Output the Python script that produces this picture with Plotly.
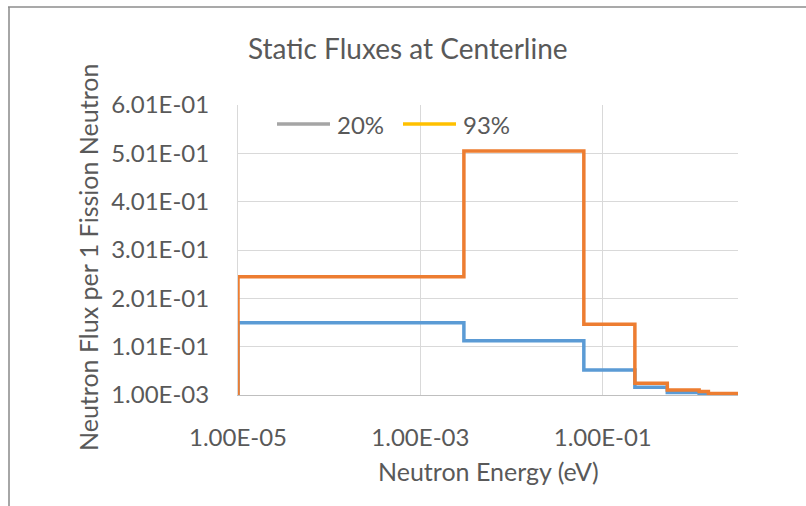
import plotly.graph_objects as go

# ---- data ----
energy_edges = [1e-5, 3.0e-3, 0.062, 0.225, 0.51, 1.14, 1.44, 3.04]   # eV
flux_20 = [0.1506, 0.1134, 0.0527, 0.0170, 0.0060, 0.0030, 0.0020]
flux_93 = [0.2458, 0.5059, 0.1473, 0.0252, 0.0113, 0.0085, 0.0040]
series_names = ["20%", "93%"]
line_colors = ["#5B9BD5", "#ED7D31"]
legend_colors = ["#A5A5A5", "#FFC000"]
y_ticks = [0.001, 0.101, 0.201, 0.301, 0.401, 0.501, 0.601]
x_ticks = [1e-5, 1e-3, 1e-1]
y_floor = 0.001

FONT = "Lato"
TXT = "#595959"

# plot-area geometry in pixels
L, R, T, B = 238, 68, 105, 111
W, H = 806, 506
PW, PH = W - L - R, H - T - B


def px(x):
    return (x - L) / PW


def py(y):
    return (H - B - y) / PH


def step_xy(edges, vals):
    xs = [edges[0]] + list(edges[:-1]) + [edges[-1]]
    ys = [y_floor] + list(vals) + [vals[-1]]
    return xs, ys


fig = go.Figure()
for name, vals, col in zip(series_names, [flux_20, flux_93], line_colors):
    xs, ys = step_xy(energy_edges, vals)
    fig.add_trace(go.Scatter(x=xs, y=ys, mode="lines", name=name,
                             line=dict(color=col, width=3.5, shape="hv"),
                             showlegend=False, hoverinfo="skip"))

# legend drawn as in the reference (grey / gold keys)
legend_shapes = []
legend_annots = []
for i, (name, col) in enumerate(zip(series_names, legend_colors)):
    x0 = 277 + i * 126
    legend_shapes.append(dict(type="line", xref="paper", yref="paper",
                              x0=px(x0), x1=px(x0 + 53), y0=py(124), y1=py(124),
                              line=dict(color=col, width=3.5)))
    legend_annots.append(dict(text=name, x=px(x0 + 58), y=py(124), xref="paper", yref="paper",
                              showarrow=False, xanchor="left", yanchor="middle",
                              font=dict(size=24, color=TXT)))

fig.update_layout(
    width=W, height=H,
    margin=dict(l=L, r=R, t=T, b=B, pad=0),
    paper_bgcolor="white", plot_bgcolor="white",
    font=dict(family=FONT, color=TXT, size=24),
    showlegend=False,
    xaxis=dict(type="log", range=[-5, 0.483], tickvals=x_ticks,
               ticktext=["{:.2E}".format(v) for v in x_ticks],
               showgrid=True, gridcolor="#D9D9D9", gridwidth=1,
               showline=True, linecolor="#BFBFBF", linewidth=1, zeroline=False,
               ticks="outside", ticklen=21, tickcolor="rgba(0,0,0,0)",
               tickfont=dict(size=24, color=TXT)),
    yaxis=dict(range=[0.001, 0.601], tickvals=y_ticks,
               ticktext=["{:.2E}".format(v) for v in y_ticks],
               showgrid=True, gridcolor="#D9D9D9", gridwidth=1,
               showline=True, linecolor="#D9D9D9", linewidth=1, zeroline=False,
               ticks="outside", ticklen=23, tickcolor="rgba(0,0,0,0)",
               tickfont=dict(size=24, color=TXT)),
    annotations=[
        dict(text="Static Fluxes at Centerline", x=px(408), y=py(48), xref="paper", yref="paper",
             showarrow=False, xanchor="center", yanchor="middle", font=dict(size=28, color=TXT)),
        dict(text="Neutron Flux per 1 Fission Neutron", x=px(88), y=py(258), xref="paper", yref="paper",
             showarrow=False, xanchor="center", yanchor="middle", textangle=-90,
             font=dict(size=25, color=TXT)),
        dict(text="Neutron Energy (eV)", x=px(488), y=py(471), xref="paper", yref="paper",
             showarrow=False, xanchor="center", yanchor="middle", font=dict(size=25, color=TXT)),
    ] + legend_annots,
    shapes=[
        dict(type="line", xref="paper", yref="paper", x0=px(9), x1=px(9), y0=py(7), y1=py(506),
             line=dict(color="#A6A6A6", width=2)),
        dict(type="line", xref="paper", yref="paper", x0=px(8), x1=px(806), y0=py(7), y1=py(7),
             line=dict(color="#8C8C8C", width=1.5)),
    ] + legend_shapes,
)

fig.write_html("out.html", config={"displayModeBar": False},
               post_script="document.body.style.margin='0px';")
